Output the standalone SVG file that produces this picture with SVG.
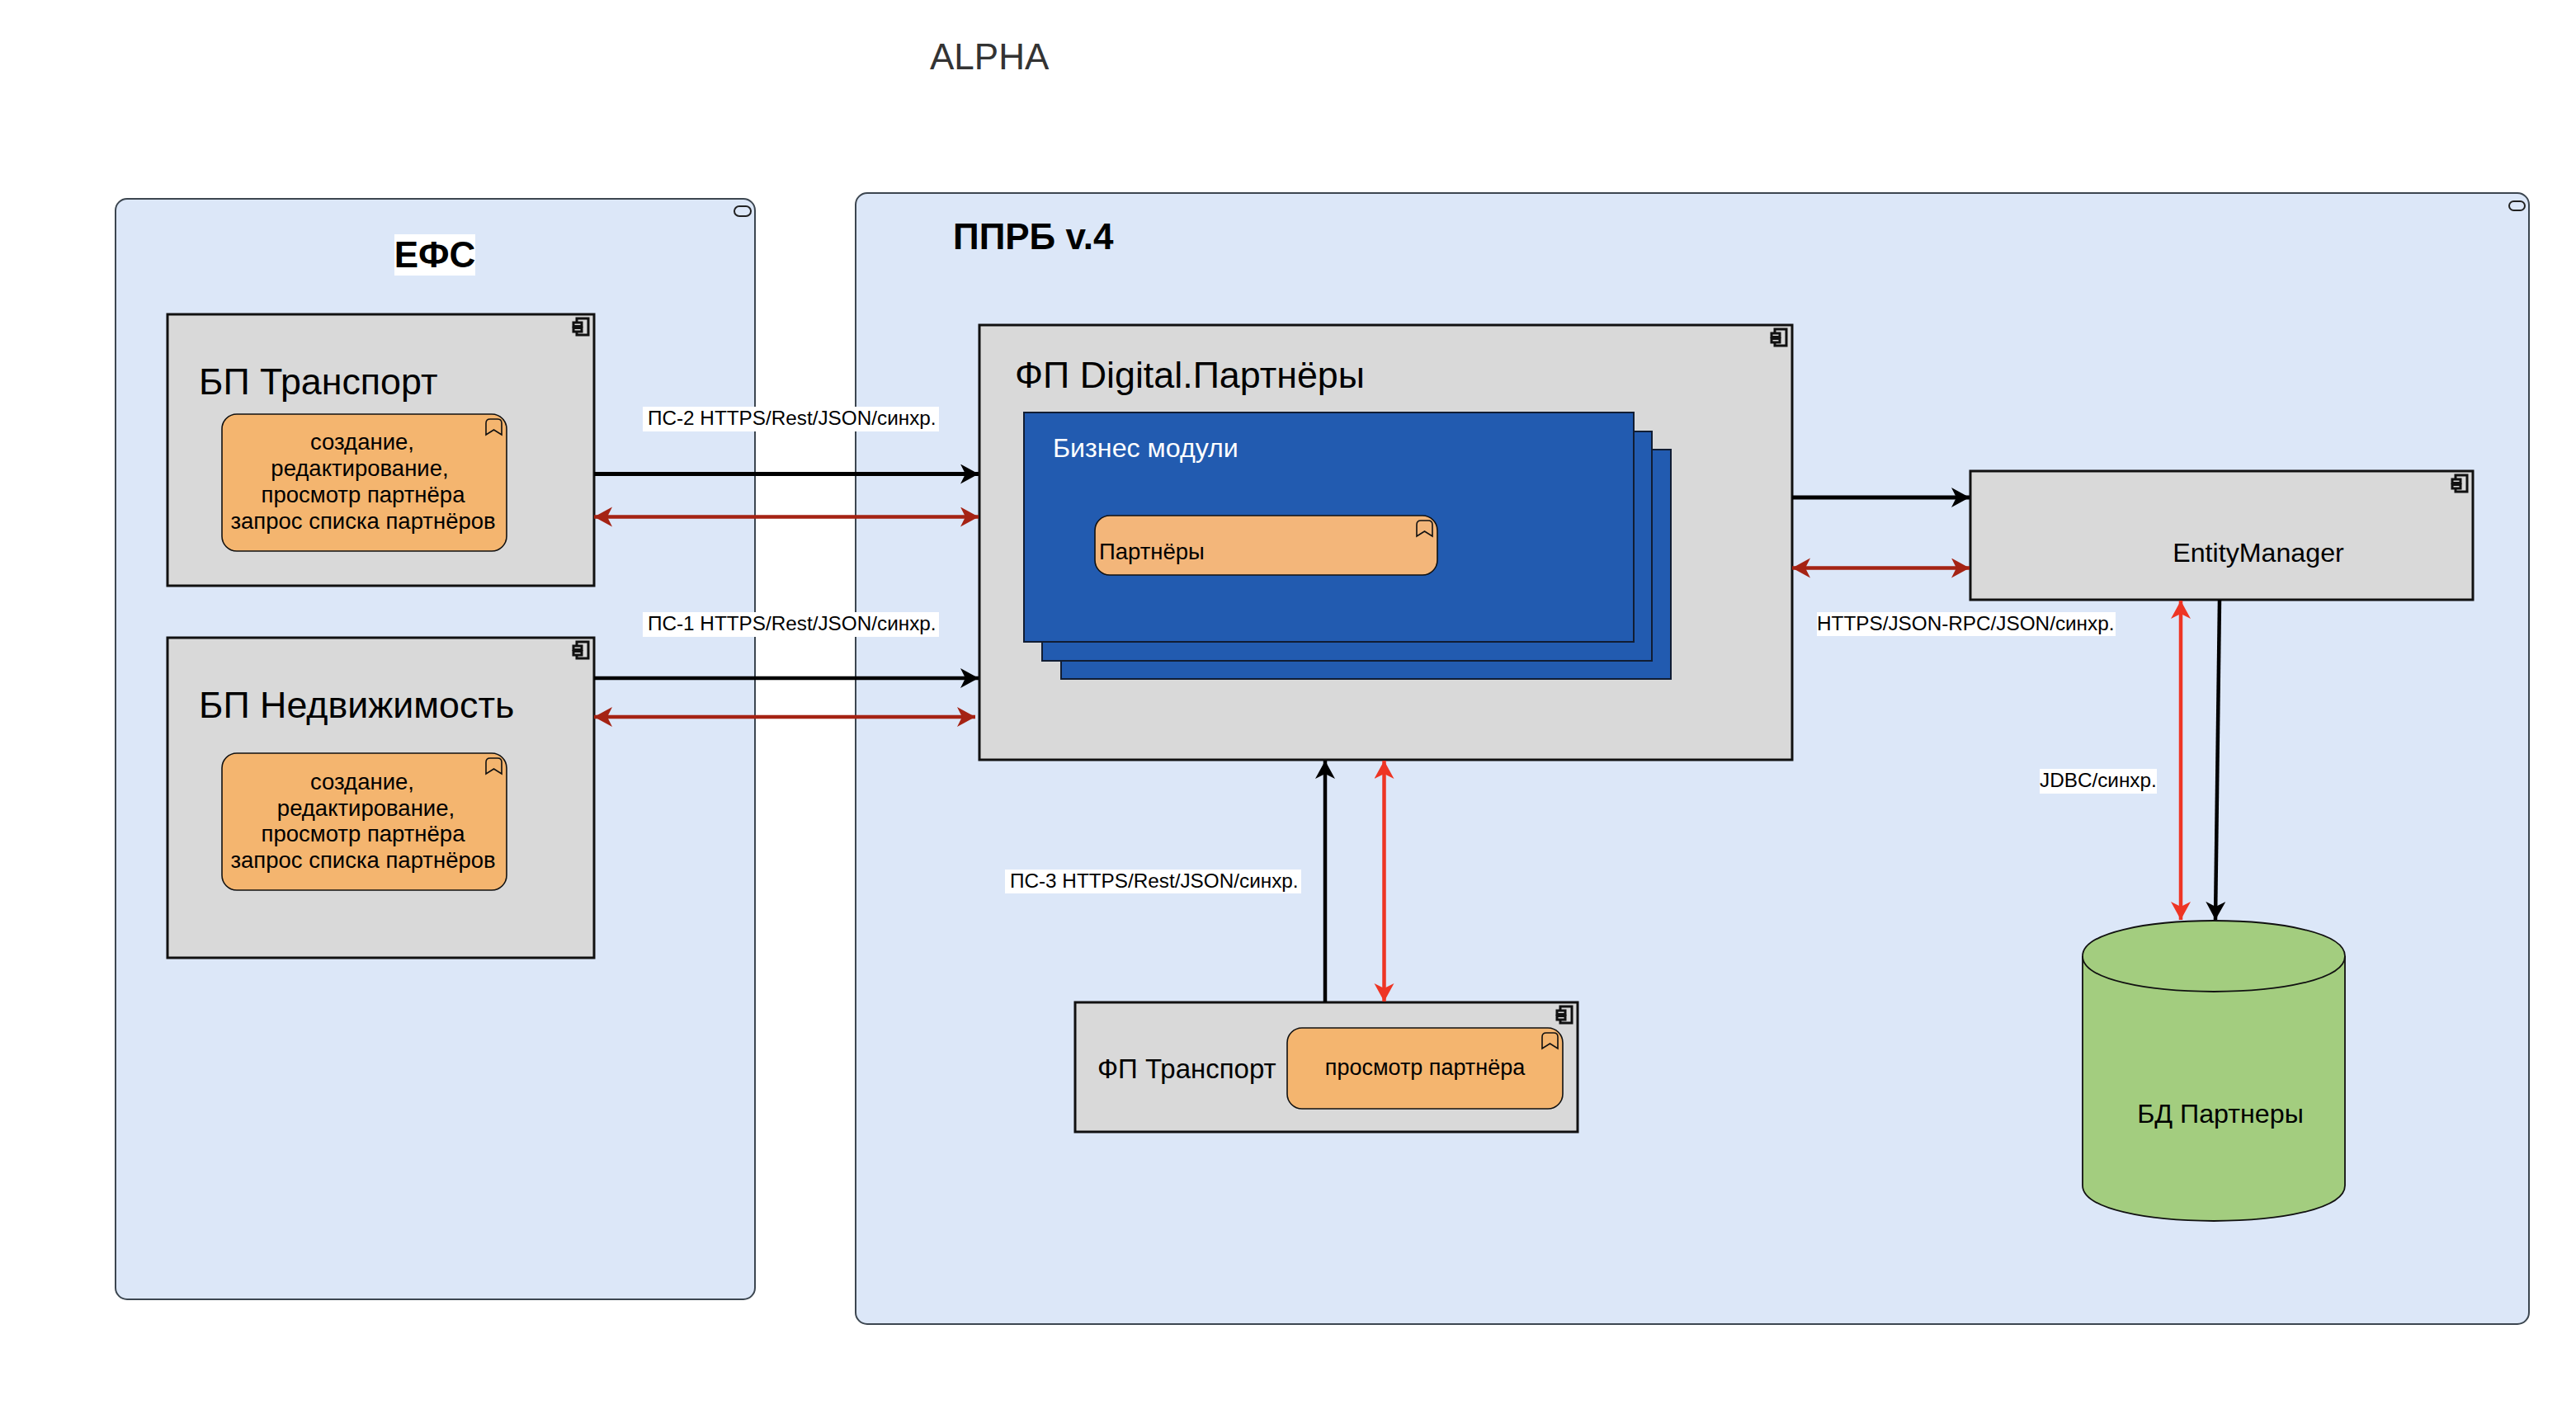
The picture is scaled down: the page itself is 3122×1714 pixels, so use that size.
<svg xmlns="http://www.w3.org/2000/svg" width="3122" height="1714" viewBox="0 0 3122 1714">
<defs>
<style>
text{font-family:"Liberation Sans",Arial,sans-serif;fill:#000}
.cont{fill:#dce7f8;stroke:#3c4650;stroke-width:2}
.pill{fill:none;stroke:#222;stroke-width:2}
.comp{fill:#d9d9d9;stroke:#111;stroke-width:3}
.task{fill:#f4b56f;stroke:#111;stroke-width:1.6}
.stack{fill:#225bb0;stroke:#111d33;stroke-width:2}
.ic{fill:none;stroke:#111;stroke-width:3}
.icf{fill:#d9d9d9;stroke:#111;stroke-width:3}
.bm{fill:none;stroke:#111;stroke-width:1.6}
.t44{font-size:44.8px}
.tb{font-size:44px;font-weight:700}
.t28{font-size:27.5px}
.t32{font-size:32.2px}
.c{text-anchor:middle}
.lab{font-size:24.3px}
.lb{fill:#fff}
.k{stroke:#000;stroke-width:5;fill:none}
.k4{stroke:#000;stroke-width:4.500;fill:none}
.r{stroke:#a52314;stroke-width:4.500;fill:none}
.b{stroke:#ee3524;stroke-width:4.500;fill:none}
</style>
<marker id="ak" markerUnits="userSpaceOnUse" markerWidth="24" markerHeight="26" refX="22" refY="12" orient="auto-start-reverse"><path d="M0 0L22 12L0 24L6 12Z" fill="#000"/></marker>
<marker id="ar" markerUnits="userSpaceOnUse" markerWidth="24" markerHeight="26" refX="22" refY="12" orient="auto-start-reverse"><path d="M0 0L22 12L0 24L6 12Z" fill="#a52314"/></marker>
<marker id="ab" markerUnits="userSpaceOnUse" markerWidth="24" markerHeight="26" refX="22" refY="12" orient="auto-start-reverse"><path d="M0 0L22 12L0 24L6 12Z" fill="#ee3524"/></marker>
<g id="ci"><rect class="ic" x="-21" y="5" width="14" height="20"/><rect class="icf" x="-25" y="10" width="10" height="4.500"/><rect class="icf" x="-25" y="16.500" width="10" height="4.500"/></g>
<path id="bk" class="bm" d="M0 5Q0 0 5 0H14Q19 0 19 5V19L9.500 13L0 19Z"/>
</defs>

<text x="1127" y="84" class="t44" style="fill:#333;font-size:44px">ALPHA</text>

<g id="efs">
<rect class="cont" x="140" y="241" width="775" height="1334" rx="14"/>
<rect class="pill" x="890" y="250" width="20" height="12" rx="6"/>
<rect class="lb" x="478" y="284" width="98" height="50"/>
<text x="527" y="324" class="tb c">ЕФС</text>
</g>
<g id="pprb">
<rect class="cont" x="1037" y="234" width="2028" height="1371" rx="14"/>
<rect class="pill" x="3041" y="244" width="19" height="11" rx="5.500"/>
<text x="1155" y="301.500" class="tb">ППРБ v.4</text>
</g>

<g id="bp-transport">
<rect class="comp" x="203" y="381" width="517" height="329"/>
<use href="#ci" x="720" y="381"/>
<text x="241" y="477.500" class="t44">БП Транспорт</text>
<rect class="task" x="269" y="502" width="345" height="166" rx="18"/>
<use href="#bk" x="589" y="508"/>
<text class="t28 c" x="439" y="545">создание,</text>
<text class="t28 c" x="436" y="577">редактирование,</text>
<text class="t28 c" x="440" y="609">просмотр партнёра</text>
<text class="t28 c" x="440" y="641">запрос списка партнёров</text>
</g>
<g id="bp-nedv">
<rect class="comp" x="203" y="773" width="517" height="388"/>
<use href="#ci" x="720" y="773"/>
<text x="241" y="869.500" class="t44">БП Недвижимость</text>
<rect class="task" x="269" y="913" width="345" height="166" rx="18"/>
<use href="#bk" x="589" y="919"/>
<text class="t28 c" x="439" y="957">создание,</text>
<text class="t28 c" x="443.500" y="989">редактирование,</text>
<text class="t28 c" x="440" y="1020">просмотр партнёра</text>
<text class="t28 c" x="440" y="1052">запрос списка партнёров</text>
</g>

<g id="fp-digital">
<rect class="comp" x="1187" y="394" width="985" height="527"/>
<use href="#ci" x="2172" y="394"/>
<text x="1230" y="469.500" class="t44">ФП Digital.Партнёры</text>
</g>
<g id="biz-modules">
<rect class="stack" x="1286" y="545" width="739" height="278"/>
<rect class="stack" x="1263" y="523" width="739" height="278"/>
<rect class="stack" x="1241" y="500" width="739" height="278"/>
<text x="1276" y="554" class="t32" style="fill:#fff">Бизнес модули</text>
</g>
<g id="partners">
<rect class="task" style="fill:#f3b67a" x="1327" y="625" width="415" height="72" rx="18"/>
<use href="#bk" x="1717" y="631"/>
<text x="1332" y="678" class="t28">Партнёры</text>
</g>
<g id="entity-manager">
<rect class="comp" x="2388" y="571" width="609" height="156"/>
<use href="#ci" x="2997" y="571"/>
<text x="2737" y="680.500" class="t32 c">EntityManager</text>
</g>
<g id="fp-transport">
<rect class="comp" x="1303" y="1215" width="609" height="157"/>
<use href="#ci" x="1912" y="1215"/>
<text x="1330" y="1307" class="t32" style="font-size:33px">ФП Транспорт</text>
<rect class="task" x="1560" y="1246" width="334" height="98" rx="18"/>
<use href="#bk" x="1869" y="1252"/>
<text x="1727" y="1303" class="t28 c" style="font-size:27px">просмотр партнёра</text>
</g>
<g id="db">
<path d="M2524 1159C2524 1101.700 2842 1101.700 2842 1159V1437C2842 1494.300 2524 1494.300 2524 1437Z" fill="#a3cd7f" stroke="#111" stroke-width="1.800"/>
<path d="M2524 1159C2524 1216.300 2842 1216.300 2842 1159" fill="none" stroke="#111" stroke-width="1.800"/>
<text x="2691" y="1361" class="t32 c">БД Партнеры</text>
</g>

<g id="connectors">
<path class="k" d="M720 574.500H1186" marker-end="url(#ak)"/>
<path class="r" d="M720 626.500H1186" marker-start="url(#ar)" marker-end="url(#ar)"/>
<path class="k4" d="M720 822H1186" marker-end="url(#ak)"/>
<path class="r" d="M720 869H1182" marker-start="url(#ar)" marker-end="url(#ar)"/>
<path class="k" d="M2172 603H2387" marker-end="url(#ak)"/>
<path class="r" d="M2172 688.500H2387" marker-start="url(#ar)" marker-end="url(#ar)"/>
<path class="b" d="M2643 728V1115" marker-start="url(#ab)" marker-end="url(#ab)"/>
<path class="k4" d="M2690 727L2685 1115" marker-end="url(#ak)"/>
<path class="k4" d="M1606 1215V922" marker-end="url(#ak)"/>
<path class="b" d="M1677.500 922V1214" marker-start="url(#ab)" marker-end="url(#ab)"/>
</g>
<g id="labels">
<rect class="lb" x="779" y="493" width="359" height="30"/>
<text x="785" y="515" class="lab">ПС-2 HTTPS/Rest/JSON/синхр.</text>
<rect class="lb" x="779" y="742" width="359" height="30"/>
<text x="785" y="764" class="lab">ПС-1 HTTPS/Rest/JSON/синхр.</text>
<rect class="lb" x="1218" y="1054" width="359" height="29"/>
<text x="1224" y="1076" class="lab">ПС-3 HTTPS/Rest/JSON/синхр.</text>
<rect class="lb" x="2202" y="742" width="362" height="29"/>
<text x="2202" y="764" class="lab">HTTPS/JSON-RPC/JSON/синхр.</text>
<rect class="lb" x="2472" y="932" width="142" height="30"/>
<text x="2472" y="954" class="lab">JDBC/синхр.</text>
</g>
</svg>
